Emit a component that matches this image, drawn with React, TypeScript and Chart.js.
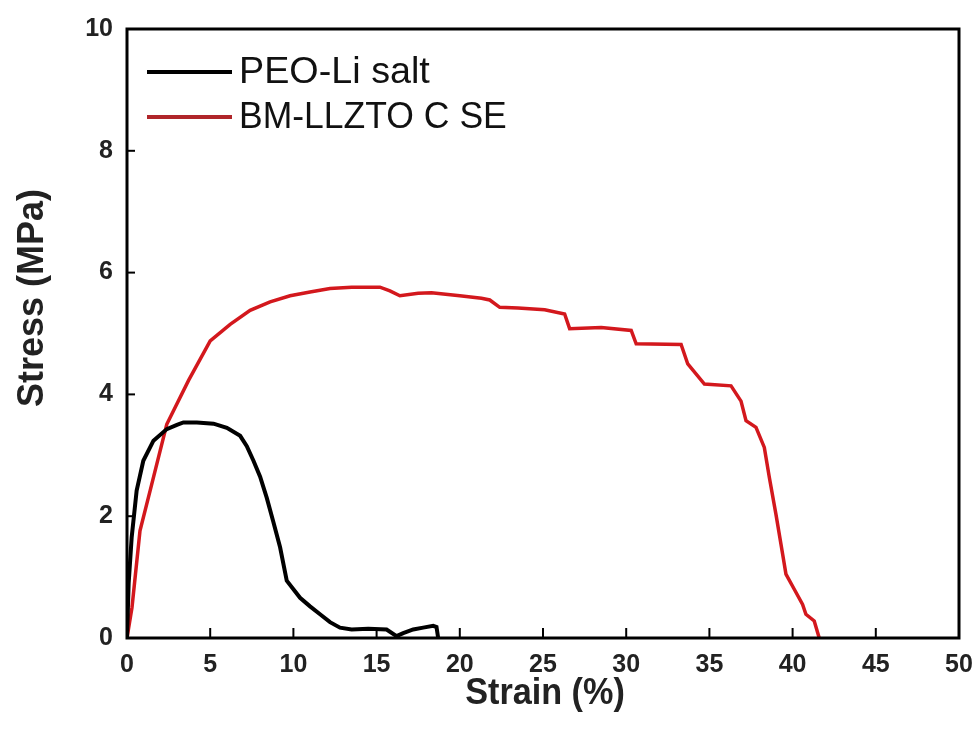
import React, { useEffect, useRef } from "react";
import { Chart, registerables } from "chart.js";

Chart.register(...registerables);

const peoLabel = "PEO-Li salt";
const peoStrain = [0, 0.1, 0.28, 0.58, 0.98, 1.59, 2.39, 3.0, 3.39, 4.2, 5.2, 6.0, 6.8, 7.2, 7.6, 8.0, 8.4, 8.8, 9.2, 9.6, 10.4, 11.0, 11.6, 12.2, 12.8, 13.5, 14.5, 15.6, 16.2, 16.6, 17.2, 17.8, 18.4, 18.6, 18.7];
const peoStress = [0, 0.9, 1.65, 2.42, 2.91, 3.24, 3.43, 3.5, 3.54, 3.54, 3.52, 3.45, 3.32, 3.15, 2.91, 2.65, 2.3, 1.9, 1.49, 0.94, 0.66, 0.52, 0.39, 0.26, 0.17, 0.14, 0.15, 0.14, 0.03, 0.08, 0.14, 0.17, 0.2, 0.18, 0];

const bmLabel = "BM-LLZTO C SE";
const bmStrain = [0, 0.3, 0.78, 1.39, 2.39, 3.7, 5, 6.2, 7.4, 8.6, 9.8, 11, 12.2, 13.5, 15.2, 15.8, 16.4, 17.5, 18.3, 20, 21.3, 21.8, 22.4, 23.5, 25.1, 26.3, 26.6, 28.5, 30.3, 30.6, 33.3, 33.7, 34.7, 36.3, 36.9, 37.2, 37.8, 38.3, 38.6, 39.0, 39.4, 39.6, 40.1, 40.6, 40.8, 41.3, 41.6];
const bmStress = [0, 0.5, 1.76, 2.42, 3.51, 4.23, 4.88, 5.15, 5.38, 5.52, 5.62, 5.68, 5.74, 5.76, 5.76, 5.7, 5.62, 5.66, 5.67, 5.62, 5.58, 5.55, 5.43, 5.42, 5.39, 5.32, 5.08, 5.1, 5.05, 4.83, 4.82, 4.5, 4.17, 4.14, 3.89, 3.57, 3.46, 3.13, 2.64, 2.03, 1.38, 1.05, 0.8, 0.55, 0.39, 0.28, 0];

const xTicks = [0, 5, 10, 15, 20, 25, 30, 35, 40, 45, 50];
const yTicks = [0, 2, 4, 6, 8, 10];
const xTitle = "Strain (%)";
const yTitle = "Stress (MPa)";

const toPoints = (xs: number[], ys: number[]) => xs.map((x, i) => ({ x, y: ys[i] }));

const FONT = "'Liberation Sans', Arial, sans-serif";

const framePlugin = {
  id: "frame",
  afterDraw(chart: any) {
    const { ctx, chartArea: a, scales } = chart;
    ctx.save();
    ctx.strokeStyle = "#000";
    ctx.lineWidth = 3;
    ctx.strokeRect(a.left, a.top, a.right - a.left, a.bottom - a.top);
    ctx.lineWidth = 2;
    xTicks.forEach((v) => {
      if (v === 0 || v === 50) return;
      const px = scales.x.getPixelForValue(v);
      ctx.beginPath();
      ctx.moveTo(px, a.bottom);
      ctx.lineTo(px, a.bottom - 10);
      ctx.stroke();
    });
    yTicks.forEach((v) => {
      if (v === 0 || v === 10) return;
      const py = scales.y.getPixelForValue(v);
      ctx.beginPath();
      ctx.moveTo(a.left, py);
      ctx.lineTo(a.left + 8, py);
      ctx.stroke();
    });
    const items = chart.data.datasets;
    items.forEach((ds: any, i: number) => {
      const y = 72 + i * 45;
      ctx.strokeStyle = ds.legendColor || ds.borderColor;
      ctx.lineWidth = 4;
      ctx.beginPath();
      ctx.moveTo(147, y);
      ctx.lineTo(232, y);
      ctx.stroke();
      ctx.fillStyle = "#111";
      ctx.font = "37px " + FONT;
      ctx.textAlign = "left";
      ctx.textBaseline = "middle";
      ctx.save();
      ctx.translate(239, y + 1);
      ctx.scale(i === 0 ? 1.02 : 0.96, 1);
      ctx.fillText(ds.label, 0, 0);
      ctx.restore();
    });
    ctx.fillStyle = "#222";
    ctx.font = "bold 36px " + FONT;
    ctx.textAlign = "center";
    ctx.textBaseline = "middle";
    ctx.save();
    ctx.translate(545, 694);
    ctx.scale(0.95, 1);
    ctx.fillText(xTitle, 0, 0);
    ctx.restore();
    ctx.save();
    ctx.translate(33, 298);
    ctx.rotate(-Math.PI / 2);
    ctx.fillText(yTitle, 0, 0);
    ctx.restore();
    ctx.restore();
  },
};

export default function App() {
  const ref = useRef<HTMLCanvasElement | null>(null);
  useEffect(() => {
    if (!ref.current) return;
    const tickFont = { family: FONT, size: 25, weight: "bold" as const };
    const chart = new Chart(ref.current, {
      type: "scatter",
      data: {
        datasets: [
          {
            label: peoLabel,
            data: toPoints(peoStrain, peoStress),
            showLine: true,
            borderColor: "#000000",
            borderWidth: 4,
            pointRadius: 0,
            tension: 0,
          },
          {
            label: bmLabel,
            data: toPoints(bmStrain, bmStress),
            showLine: true,
            borderColor: "#d3181d",
            legendColor: "#b0252a",
            borderWidth: 3.5,
            pointRadius: 0,
            tension: 0,
          } as any,
        ],
      },
      options: {
        animation: false,
        responsive: false,
        maintainAspectRatio: false,
        layout: { padding: { top: 29, right: 20, left: 0, bottom: 0 } },
        plugins: { legend: { display: false }, tooltip: { enabled: false } },
        scales: {
          x: {
            type: "linear",
            min: 0,
            max: 50,
            afterFit: (s: any) => { s.height = 107; s.paddingLeft = 0; s.paddingRight = 0; },
            afterBuildTicks: (s: any) => { s.ticks = xTicks.map((v) => ({ value: v })); },
            grid: { display: false, drawTicks: false },
            border: { display: false },
            ticks: { color: "#222", font: tickFont, padding: 12, maxRotation: 0, autoSkip: false },
          },
          y: {
            type: "linear",
            min: 0,
            max: 10,
            afterFit: (s: any) => { s.width = 127; s.paddingTop = 0; s.paddingBottom = 0; },
            afterBuildTicks: (s: any) => { s.ticks = yTicks.map((v) => ({ value: v })); },
            grid: { display: false, drawTicks: false },
            border: { display: false },
            ticks: { color: "#222", font: tickFont, padding: 14, autoSkip: false },
          },
        },
      },
      plugins: [framePlugin],
    });
    return () => chart.destroy();
  }, []);
  return (
    <div style={{ position: "fixed", left: 0, top: 0, width: 979, height: 745, background: "#fff" }}>
      <canvas ref={ref} width={979} height={745} style={{ width: 979, height: 745 }} />
    </div>
  );
}
